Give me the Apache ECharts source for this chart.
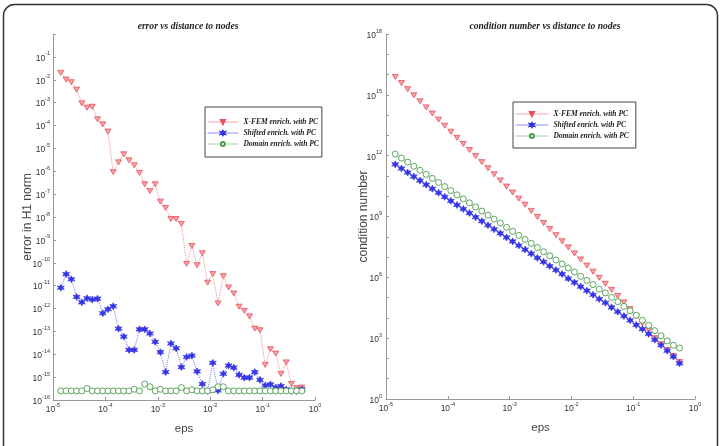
<!DOCTYPE html>
<html><head><meta charset="utf-8">
<script src="https://cdn.jsdelivr.net/npm/echarts@6/dist/echarts.min.js"></script>
<style>html,body{margin:0;padding:0;background:#fff}#c{width:721px;height:446px}</style>
</head><body><div id="c"></div>
<script>
// ---- data ----
const seriesNames = ['X-FEM enrich. with PC', 'Shifted enrich. with PC', 'Domain enrich. with PC'];
const titles = ['error vs distance to nodes', 'condition number vs distance to nodes'];
const yNames = ['error in H1 norm', 'condition number'];
const xName = 'eps';

const eps = [1.41e-5,1.78e-5,2.24e-5,2.82e-5,3.55e-5,4.47e-5,5.62e-5,7.08e-5,8.91e-5,
  1.12e-4,1.41e-4,1.78e-4,2.24e-4,2.82e-4,3.55e-4,4.47e-4,5.62e-4,7.08e-4,8.91e-4,
  1.12e-3,1.41e-3,1.78e-3,2.24e-3,2.82e-3,3.55e-3,4.47e-3,5.62e-3,7.08e-3,8.91e-3,
  1.12e-2,1.41e-2,1.78e-2,2.24e-2,2.82e-2,3.55e-2,4.47e-2,5.62e-2,7.08e-2,8.91e-2,
  0.112,0.141,0.178,0.224,0.282,0.355,0.447,0.562];

const errXfem = [2.0e-2,1.02e-2,7.8e-3,3.7e-3,9.3e-4,6.0e-4,6.6e-4,1.86e-4,1.12e-4,5.4e-5,
  9.1e-7,2.45e-6,5.5e-6,3.0e-6,1.82e-6,8.5e-7,2.7e-7,1.38e-7,2.7e-7,4.7e-8,
  2.5e-8,8.1e-9,8.1e-9,5.0e-9,8.9e-11,5.4e-10,7.8e-11,2.6e-10,1.35e-11,3.2e-11,
  1.66e-12,2.6e-11,8.3e-12,4.5e-12,1.2e-12,7.9e-13,4.5e-13,1.32e-13,1.12e-13,3.4e-15,
  1.66e-14,1.07e-14,1.38e-15,4.4e-15,5.0e-16,3.3e-16,3.5e-16];
const errShifted = [8.1e-12,3.2e-11,1.9e-11,3.2e-12,1.86e-12,2.8e-12,2.45e-12,2.7e-12,6.2e-13,9.3e-13,
  1.26e-12,1.32e-13,5.9e-14,1.55e-14,1.55e-14,1.23e-13,1.23e-13,8.1e-14,3.5e-14,1.23e-14,
  1.66e-15,2.95e-14,1.82e-14,2.75e-15,7.6e-15,8.7e-15,1.78e-15,5.0e-16,2.5e-16,4.2e-15,
  2.6e-16,1.41e-15,3.2e-15,2.6e-15,1.26e-15,9.5e-16,9.5e-16,1.66e-15,7.6e-16,4.3e-16,
  4.8e-16,3.5e-16,4.1e-16,2.9e-16,2.5e-16,2.5e-16,2.9e-16];
const errDomain = [2.5e-16,2.5e-16,2.5e-16,2.5e-16,2.5e-16,3.2e-16,2.5e-16,2.5e-16,2.5e-16,2.5e-16,
  2.5e-16,2.5e-16,2.5e-16,2.5e-16,2.95e-16,2.5e-16,5.0e-16,3.8e-16,2.5e-16,2.95e-16,
  2.5e-16,2.5e-16,2.5e-16,3.5e-16,2.5e-16,2.8e-16,2.5e-16,2.5e-16,2.5e-16,2.8e-16,
  3.8e-16,3.8e-16,2.5e-16,2.5e-16,2.5e-16,2.5e-16,2.5e-16,2.5e-16,2.5e-16,2.5e-16,
  2.5e-16,2.5e-16,2.5e-16,2.5e-16,2.5e-16,2.5e-16,2.5e-16];

const condXfem = [7.6e15,3.8e15,1.9e15,9.5e14,4.8e14,2.4e14,1.2e14,6.0e13,3.0e13,1.51e13,
  7.6e12,3.8e12,1.9e12,9.5e11,4.8e11,2.4e11,1.2e11,6.0e10,3.0e10,1.51e10,
  7.6e9,3.8e9,1.9e9,9.5e8,4.8e8,2.4e8,1.2e8,6.0e7,3.0e7,1.51e7,
  7.6e6,3.8e6,1.9e6,9.5e5,4.8e5,2.4e5,1.2e5,5.8e4,2.7e4,1.2e4,
  5.4e3,2.4e3,1.0e3,500,263,132,66];
const condShifted = [3.72e11,2.34e11,1.48e11,9.3e10,5.9e10,3.7e10,2.34e10,1.48e10,9.3e9,5.9e9,
  3.7e9,2.34e9,1.48e9,9.3e8,5.9e8,3.7e8,2.34e8,1.48e8,9.3e7,5.9e7,
  3.7e7,2.34e7,1.48e7,9.1e6,5.8e6,3.6e6,2.3e6,1.45e6,8.7e5,5.6e5,
  3.5e5,2.2e5,1.38e5,8.5e4,5.6e4,3.3e4,2.0e4,1.23e4,7.6e3,4.5e3,
  2.8e3,1.62e3,832,447,240,123,57.5];
const condDomain = [1.2e12,7.6e11,4.8e11,3.0e11,1.9e11,1.2e11,7.6e10,4.8e10,3.0e10,1.9e10,
  1.17e10,7.4e9,4.7e9,2.95e9,1.86e9,1.17e9,7.4e8,4.7e8,2.95e8,1.86e8,
  1.17e8,7.4e7,4.7e7,2.95e7,1.82e7,1.15e7,7.2e6,4.6e6,2.9e6,1.82e6,
  1.12e6,7.1e5,4.4e5,2.6e5,1.7e5,1.02e5,6.3e4,3.7e4,2.24e4,1.35e4,
  7.6e3,4.3e3,2.34e3,1.32e3,724,447,324];

// ---- styling ----
const labFont = 'Liberation Sans, Arial, sans-serif';
const serif = 'Liberation Serif, Times New Roman, serif';
function expOf(v){ return Math.round(Math.log10(v)); }
function powLabel(v){ return '{b|10}{e|' + expOf(v) + '}'; }
const rich = {
  b: {fontSize: 8.5, fontFamily: labFont, color: '#333', verticalAlign: 'bottom', lineHeight: 12},
  e: {fontSize: 5.5, fontFamily: labFont, color: '#333', verticalAlign: 'top', lineHeight: 7}
};
const axisLineStyle = {lineStyle: {color: '#999', width: 1}};
const tickStyle = {inside: true, length: 3, lineStyle: {color: '#999'}};

const styles = [
  {symbol: 'path://M0,0 L10,0 L5,8.66 Z', size: [6,5], color: '#f6a3a8', border: '#e8505a', bw: 0.8, line: '#f09090'},
  {symbol: 'path://M5,0 L6.6,3.1 L9.5,2.4 L7.8,5 L9.5,7.6 L6.6,6.9 L5,10 L3.4,6.9 L0.5,7.6 L2.2,5 L0.5,2.4 L3.4,3.1 Z', size: 7, color: '#3535e8', border: '#3535e8', bw: 0.6, line: '#7878ee'},
  {symbol: 'circle', size: 6, color: '#ffffff', border: '#4c9c4c', bw: 0.9, line: '#8fbf8f'}
];

function mk(idx, ys, axis){
  const s = styles[idx];
  return {
    name: seriesNames[idx], type: 'line', xAxisIndex: axis, yAxisIndex: axis,
    data: eps.map((x, i) => [x, ys[i]]),
    symbol: s.symbol, symbolSize: s.size, showAllSymbol: true,
    itemStyle: {color: s.color, borderColor: s.border, borderWidth: s.bw},
    lineStyle: {color: s.line, width: 1, type: 'dotted'},
    emphasis: {disabled: true}, animation: false, clip: false
  };
}

const legendBase = {
  data: seriesNames, orient: 'vertical', itemWidth: 31, itemHeight: 5, itemGap: 3,
  borderColor: '#444', borderWidth: 1, backgroundColor: '#fff',
  lineStyle: {type: 'solid', width: 0.8},
  textStyle: {fontFamily: serif, fontStyle: 'italic', fontWeight: 'bold', fontSize: 7.5, color: '#222'},
  selectedMode: false
};

const chart = echarts.init(document.getElementById('c'), null, {renderer: 'canvas'});
chart.setOption({
  animation: false,
  backgroundColor: '#fff',
  graphic: [{type: 'rect', silent: true, z: -10,
    shape: {x: 3.5, y: 4.5, width: 714, height: 480, r: 11},
    style: {fill: 'none', stroke: '#333', lineWidth: 1.5}}],
  title: [
    {text: titles[0], left: 183, top: 17, textAlign: 'center',
     textStyle: {fontFamily: serif, fontStyle: 'italic', fontWeight: 'bold', fontSize: 9.6, color: '#222'}},
    {text: titles[1], left: 540, top: 17, textAlign: 'center',
     textStyle: {fontFamily: serif, fontStyle: 'italic', fontWeight: 'bold', fontSize: 9.6, color: '#222'}}
  ],
  legend: [
    Object.assign({}, legendBase, {left: 205, top: 107, padding: [11, 3, 9, 2]}),
    Object.assign({}, legendBase, {left: 513, top: 102, padding: [8, 7, 8, 2], itemWidth: 33})
  ],
  grid: [
    {left: 53, right: 406, top: 34, bottom: 46},
    {left: 386, right: 26, top: 34, bottom: 47}
  ],
  xAxis: [0, 1].map(g => ({
    type: 'log', logBase: 10, gridIndex: g, min: 1e-5, max: 1, interval: 1,
    name: xName, nameLocation: 'middle', nameGap: 23,
    nameTextStyle: {fontFamily: labFont, fontSize: 11.5, color: '#444'},
    axisLine: axisLineStyle, axisTick: tickStyle, splitLine: {show: false},
    axisLabel: {formatter: powLabel, rich: rich, margin: 2}
  })),
  yAxis: [
    {type: 'log', logBase: 10, gridIndex: 0, min: 1e-16, max: 1, interval: 1,
     name: yNames[0], nameLocation: 'middle', nameGap: 19, nameRotate: 90, nameMoveOverlap: false,
     nameTextStyle: {fontFamily: labFont, fontSize: 12, color: '#444'},
     axisLine: {show: true, lineStyle: {color: '#999'}}, axisTick: tickStyle, splitLine: {show: false},
     axisLabel: {formatter: v => expOf(v) === 0 ? '' : powLabel(v), rich: rich, margin: 3}},
    {type: 'log', logBase: 10, gridIndex: 1, min: 1, max: 1e18, interval: 1,
     name: yNames[1], nameLocation: 'middle', nameGap: 16, nameRotate: 90, nameMoveOverlap: false,
     nameTextStyle: {fontFamily: labFont, fontSize: 12, color: '#444'},
     axisLine: {show: true, lineStyle: {color: '#999'}}, axisTick: tickStyle, splitLine: {show: false},
     axisLabel: {formatter: v => expOf(v) % 3 === 0 ? powLabel(v) : '', rich: rich, margin: 4}}
  ],
  series: [
    mk(0, errXfem, 0), mk(1, errShifted, 0), mk(2, errDomain, 0),
    mk(0, condXfem, 1), mk(1, condShifted, 1), mk(2, condDomain, 1)
  ]
});
</script></body></html>
